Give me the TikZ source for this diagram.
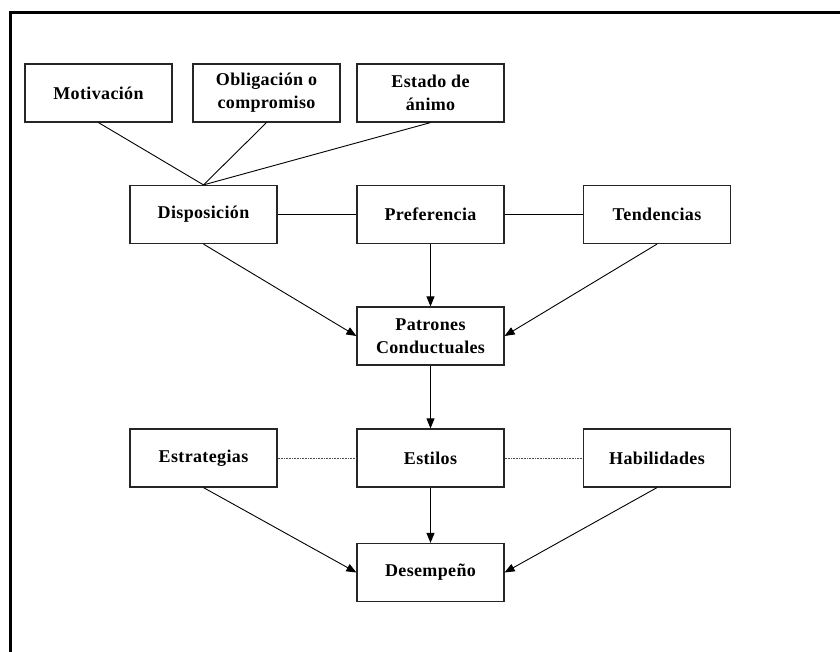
\documentclass[tikz,border=0pt]{standalone}
\usepackage{fontspec}
\setmainfont{Liberation Serif}[LetterSpace=2]
\usetikzlibrary{arrows.meta}
\begin{document}
\begin{tikzpicture}[x=1pt,y=-1pt,
  box/.style={draw=black!85, line width=1.2pt, minimum width=147pt, minimum height=58pt, inner sep=0pt, align=center, font=\fontsize{18}{23}\selectfont\bfseries},
  link/.style={draw=black, line width=0.9pt},
  dotlink/.style={draw=black!70, line width=0.9pt, dash pattern=on 0.8pt off 0.8pt},
  arr/.style={link, -{Triangle[length=10pt,width=8pt]}}]
\useasboundingbox (0,0) rectangle (840,652);
\clip (0,0) rectangle (840,652);
\draw[line width=3pt] (10,660) -- (10,12.5) -- (850,12.5);
\node[box] (mot) at (98.5,93) {Motivación};
\node[box] (obl) at (266.5,93) {Obligación o\\compromiso};
\node[box] (est) at (430.5,93) {Estado de\\ánimo};
\node[box] (dis) at (203.5,214.5) {Disposición};
\node[box] (pre) at (430.5,214.5) {Preferencia};
\node[box] (ten) at (657,214.5) {Tendencias};
\node[box] (pat) at (430.5,336) {Patrones\\Conductuales};
\node[box] (etr) at (203.5,458) {Estrategias};
\node[box] (sti) at (430.5,458) {Estilos};
\node[box] (hab) at (657,458) {Habilidades};
\node[box] (des) at (430.5,572.5) {Desempeño};
\draw[link] (mot.south) -- (dis.north);
\draw[link] (obl.south) -- (dis.north);
\draw[link] (est.south) -- (dis.north);
\draw[link] (dis.east) -- (pre.west);
\draw[link] (pre.east) -- (ten.west);
\draw[arr] (dis.south) -- (pat.west);
\draw[arr] (pre.south) -- (pat.north);
\draw[arr] (ten.south) -- (pat.east);
\draw[arr] (pat.south) -- (sti.north);
\draw[dotlink] (etr.east) -- (sti.west);
\draw[dotlink] (sti.east) -- (hab.west);
\draw[arr] (etr.south) -- (des.west);
\draw[arr] (sti.south) -- (des.north);
\draw[arr] (hab.south) -- (des.east);
\end{tikzpicture}
\end{document}
